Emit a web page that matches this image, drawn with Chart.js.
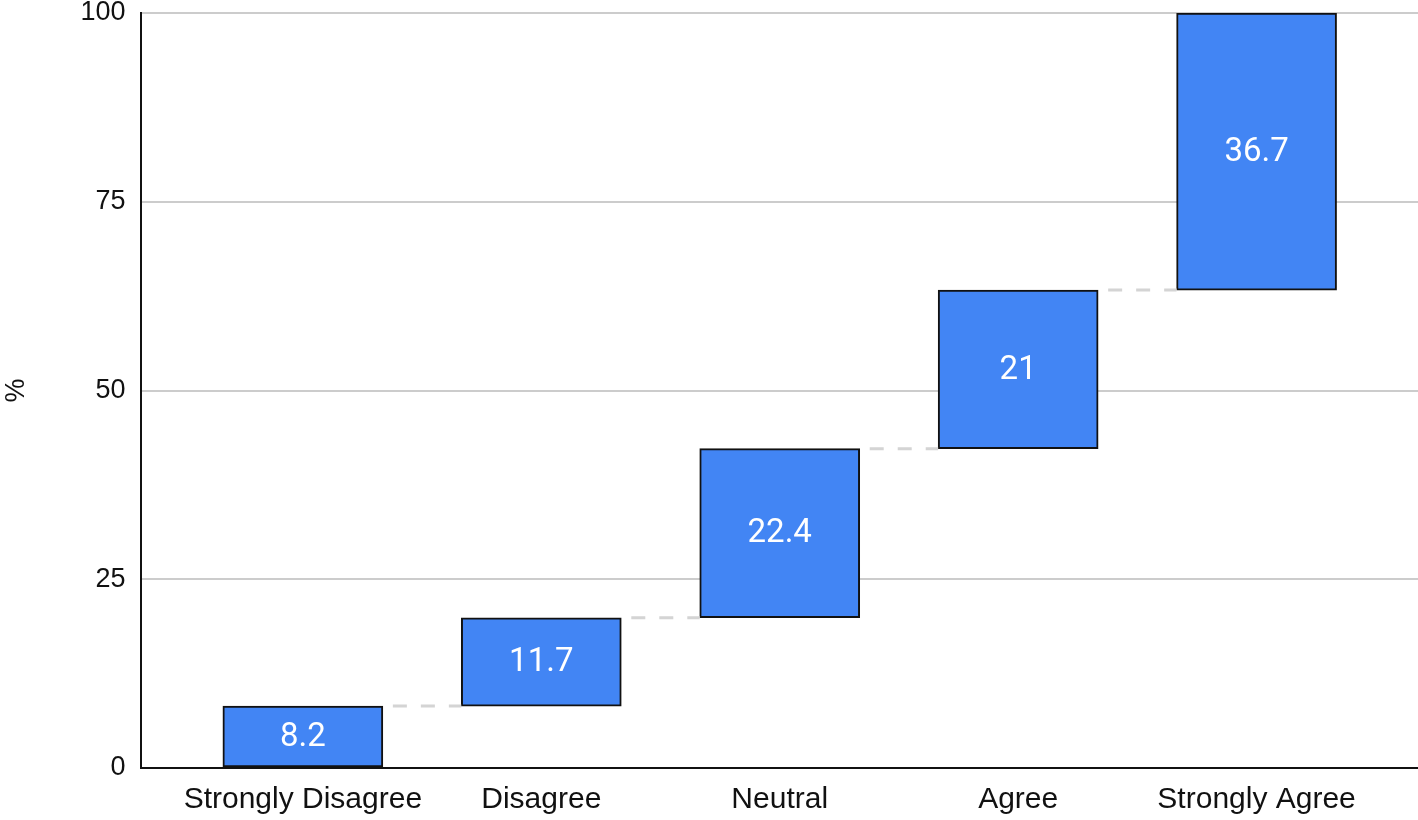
<!DOCTYPE html>
<html>
<head>
<meta charset="utf-8">
<script src="https://cdn.jsdelivr.net/npm/chart.js@4"></script>
<style>
  html, body { margin: 0; padding: 0; background: #fff; }
  #wrap { width: 1418px; height: 820px; }
</style>
</head>
<body>
<div id="wrap"><canvas id="chart"></canvas></div>
<script>
// waterfall of answers, each step stacks on the previous one
const categories = ['Strongly Disagree', 'Disagree', 'Neutral', 'Agree', 'Strongly Agree'];
const values = [8.2, 11.7, 22.4, 21, 36.7];
const yTicks = [0, 25, 50, 75, 100];

// floating ranges [start, end] from the running total
let running = 0;
const ranges = values.map(v => {
    const r = [running, running + v];
    running += v;
    return r;
});

// dashed connectors between bar tops + value labels inside bars
const waterfallExtras = {
    id: 'waterfallExtras',
    afterDatasetsDraw(chart) {
        const ctx = chart.ctx;
        const meta = chart.getDatasetMeta(0);
        const y = chart.scales.y;
        ctx.save();
        ctx.strokeStyle = '#d4d4d4';
        ctx.lineWidth = 3;
        ctx.setLineDash([14, 14]);
        for (let i = 0; i < meta.data.length - 1; i++) {
            const a = meta.data[i], b = meta.data[i + 1];
            const py = y.getPixelForValue(ranges[i][1]);
            ctx.beginPath();
            ctx.moveTo(a.x + a.width / 2 + 10, py);
            ctx.lineTo(b.x - b.width / 2, py);
            ctx.stroke();
        }
        ctx.setLineDash([]);
        ctx.fillStyle = '#ffffff';
        ctx.font = '33px Roboto';
        ctx.textAlign = 'center';
        ctx.textBaseline = 'middle';
        meta.data.forEach((bar, i) => {
            const mid = y.getPixelForValue((ranges[i][0] + ranges[i][1]) / 2);
            ctx.fillText(String(values[i]), bar.x, mid + 1);
        });
        ctx.restore();
    }
};

const ctx = document.getElementById('chart').getContext('2d');
const chart = new Chart(ctx, {
    type: 'bar',
    data: {
        datasets: [{
            data: ranges.map((r, i) => ({ x: i, y: r })),
            backgroundColor: '#4285f4',
            borderColor: '#111111',
            borderWidth: 2,
            borderSkipped: false,
            barThickness: 160
        }]
    },
    options: {
        responsive: true,
        maintainAspectRatio: false,
        animation: false,
        layout: { padding: { top: 0, right: 0, left: 0, bottom: -12 } },
        plugins: { legend: { display: false }, tooltip: { enabled: false } },
        scales: {
            x: {
                type: 'linear',
                offset: false,
                min: -0.677,
                max: 4.677,
                afterBuildTicks: s => { s.ticks = categories.map((c, i) => ({ value: i })); },
                afterFit: s => { s.paddingTop = 0; },
                ticks: {
                    callback: v => categories[v],
                    color: '#111',
                    font: { family: 'Liberation Sans', size: 30 },
                    padding: 14,
                    maxRotation: 0,
                    autoSkip: false
                },
                grid: { display: false, drawTicks: false },
                border: { color: '#111', width: 2 }
            },
            y: {
                min: 0,
                max: 100,
                afterBuildTicks: s => { s.ticks = yTicks.map(v => ({ value: v })); },
                afterFit: s => { s.paddingTop = 13; },
                ticks: {
                    color: '#111',
                    font: { family: 'Liberation Sans', size: 27, lineHeight: 0.95 },
                    padding: 16
                },
                grid: { color: '#cccccc', lineWidth: 2, drawTicks: false },
                border: { color: '#111', width: 2 },
                title: {
                    display: true,
                    text: '%',
                    color: '#111',
                    font: { family: 'Liberation Sans', size: 27 },
                    padding: { top: 0, bottom: 32 }
                }
            }
        }
    },
    plugins: [waterfallExtras]
});
</script>
</body>
</html>
